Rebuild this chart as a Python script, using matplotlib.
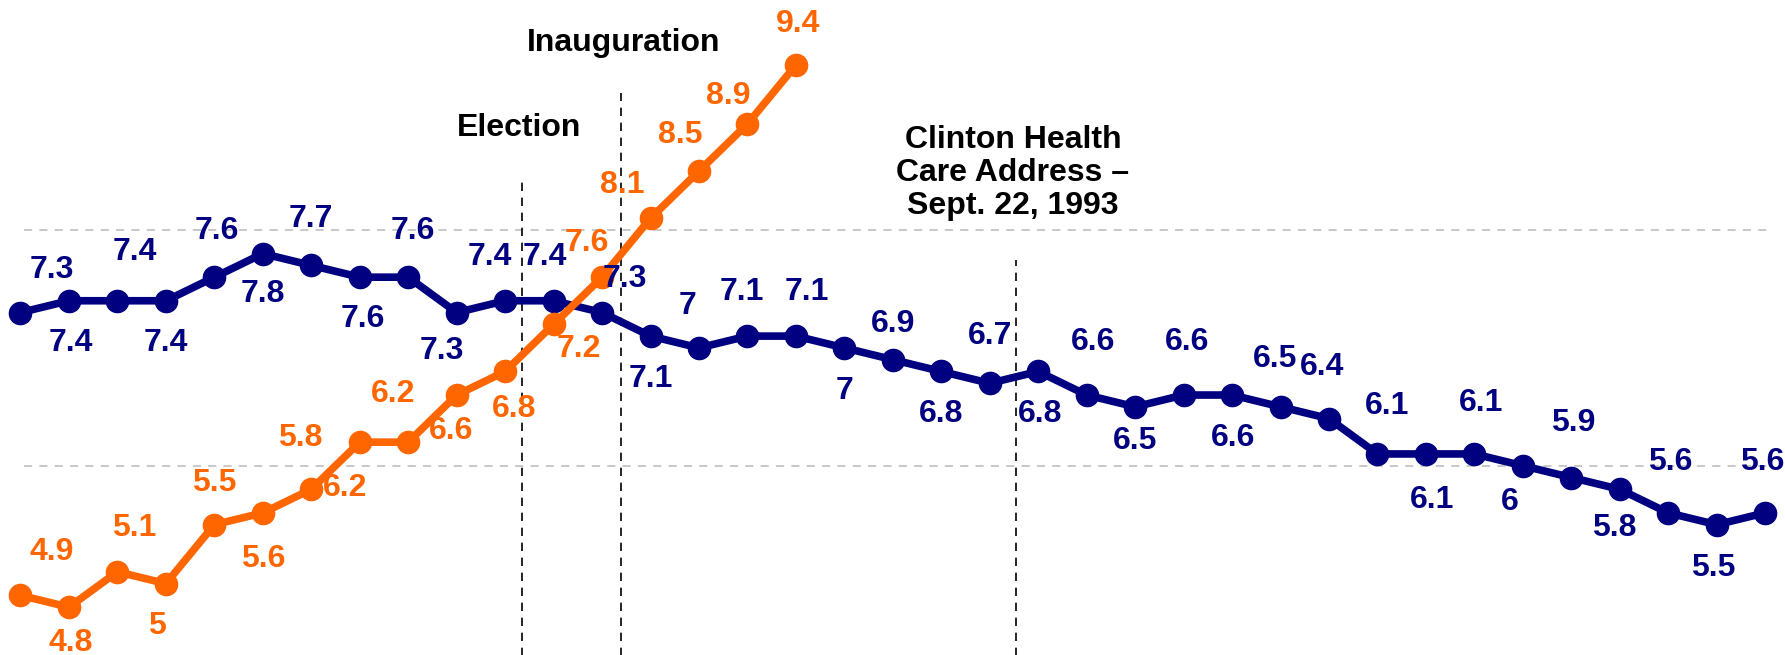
import matplotlib
matplotlib.use("Agg")
import matplotlib.pyplot as plt

# monthly values, navy series (full run) and orange series (first 17 months)
navy_vals = [7.3, 7.4, 7.4, 7.4, 7.6, 7.8, 7.7, 7.6, 7.6, 7.3, 7.4, 7.4, 7.3,
             7.1, 7.0, 7.1, 7.1, 7.0, 6.9, 6.8, 6.7, 6.8, 6.6, 6.5, 6.6, 6.6,
             6.5, 6.4, 6.1, 6.1, 6.1, 6.0, 5.9, 5.8, 5.6, 5.5, 5.6]
orange_vals = [4.9, 4.8, 5.1, 5.0, 5.5, 5.6, 5.8, 6.2, 6.2, 6.6, 6.8, 7.2,
               7.6, 8.1, 8.5, 8.9, 9.4]

events = ["Election", "Inauguration", "Clinton Health\nCare Address \u2013\nSept. 22, 1993"]
event_x = [10.35, 12.4, 20.55]

NAVY = "#000080"
ORANGE = "#FF6600"

# label offsets in pixels (dx, dy screen-down) -- style only
navy_off = [(31, -43), (2, 42), (17, -49), (0, 42), (2, -46), (0, 40), (0, -46),
            (3, 42), (5, -46), (-15, 38), (-15, -44), (-9, -44), (23, -34),
            (0, 43), (-11, -42), (-6, -44), (11, -44), (0, 43), (0, -36), (0, 43),
            (0, -47), (2, 43), (6, -53), (0, 34), (3, -53), (1, 43), (-5, -48),
            (-7, -52), (10, -48), (6, 46), (7, -51), (-13, 36), (2, -55),
            (-5, 39), (2, -51), (-3, 43), (-3, -51)]
orange_off = [(31, -43), (2, 36), (17, -44), (-9, 42), (0, -42), (0, 46),
              (-11, -51), (-15, 46), (-15, -48), (-6, 36), (9, 38), (25, 25),
              (-15, -34), (-28, -33), (-19, -36), (-19, -28), (2, -41)]


def fmt(v):
    return "%g" % v


plt.rcParams["font.family"] = ["Liberation Sans", "DejaVu Sans"]

fig = plt.figure(figsize=(17.85, 6.55), dpi=100)
ax = fig.add_axes([0, 0, 1, 1])
ax.set_xlim(-0.423, 36.41)
ax.set_ylim(4.394, 9.952)
ax.axis("off")

for g in (6, 8):
    ax.axhline(g, xmin=24 / 1785, xmax=1768 / 1785, color="#c4c4c4", lw=1.3,
               ls=(0, (4.5, 4)), zorder=0)

# vertical event lines
tops = [8.46, 9.16, 7.75]
for x, top in zip(event_x, tops):
    ax.plot([x, x], [4.3, top], color="black", lw=1.2, ls=(0, (5, 4)), zorder=1)

text_pos = [(10.29, 8.87), (12.45, 9.587), (20.48, 8.484)]
for t, (x, y) in zip(events, text_pos):
    ax.text(x, y, t, ha="center", va="center", fontsize=23, fontweight="bold",
            color="black", linespacing=1.15)

ax.plot(range(len(navy_vals)), navy_vals, color=NAVY, lw=5.5, marker="o",
        markersize=16, zorder=3)
ax.plot(range(len(orange_vals)), orange_vals, color=ORANGE, lw=5.5, marker="o",
        markersize=16, zorder=4)

for i, v in enumerate(navy_vals):
    dx, dy = navy_off[i]
    ax.annotate(fmt(v), (i, v), xytext=(dx, -dy), textcoords="offset pixels",
                ha="center", va="center", fontsize=23, fontweight="bold",
                color=NAVY, zorder=5)
for i, v in enumerate(orange_vals):
    dx, dy = orange_off[i]
    ax.annotate(fmt(v), (i, v), xytext=(dx, -dy), textcoords="offset pixels",
                ha="center", va="center", fontsize=23, fontweight="bold",
                color=ORANGE, zorder=5)

fig.savefig("out.png", dpi=100)
